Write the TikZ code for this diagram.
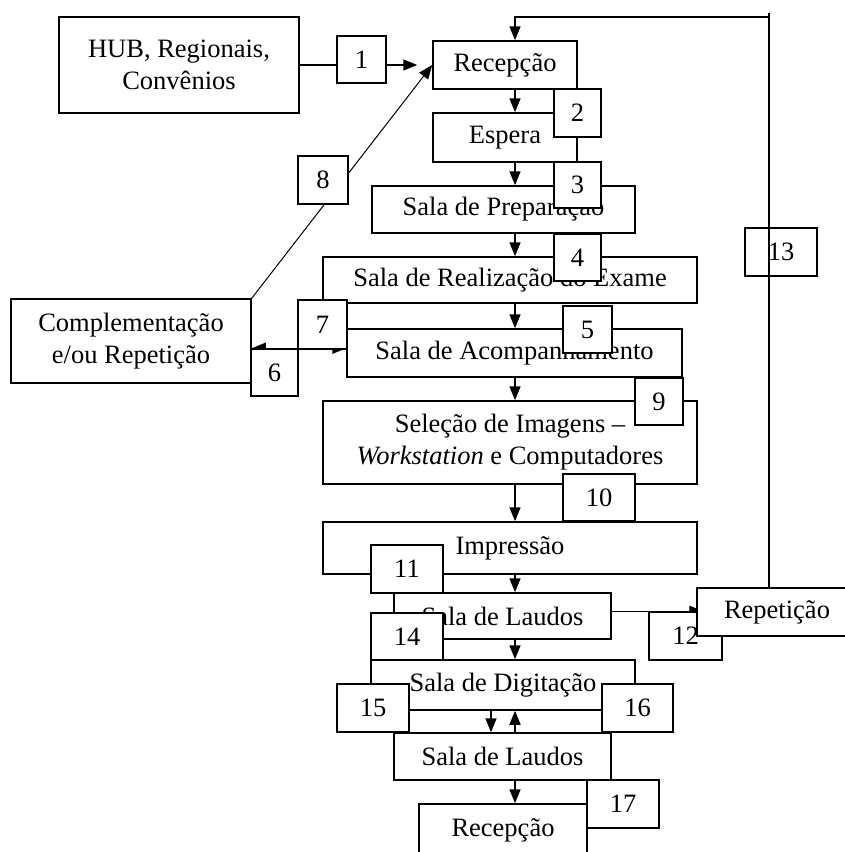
\documentclass[tikz,border=0pt]{standalone}
\usepackage{fontspec}
\setmainfont{Liberation Serif}
\usetikzlibrary{arrows.meta,backgrounds}

\begin{document}
\begin{tikzpicture}[
    x=1pt, y=-1pt,
    block/.style={rectangle, draw, fill=white, line width=1.5pt,
                  inner sep=0pt, align=center,
                  font=\fontsize{26.5}{32}\selectfont},
    wh/.style 2 args={minimum width=#1pt, minimum height=#2pt},
    arrow/.style={line width=1.5pt, -{Triangle[length=14pt,width=11pt]}},
    thinarrow/.style={line width=1pt, -{Triangle[length=14pt,width=11pt]}},
    line/.style={line width=1.5pt}
  ]
    \useasboundingbox (0,0) rectangle (845,852);

    % Eixos das setas
    \coordinate (eixo) at (515,0);
    \coordinate (eixoB) at (491,0);
    \coordinate (topo) at (769,17);

    % Blocos
    \node[block, wh={240}{96}] (hub) at (179,65) {HUB, Regionais,\\Convênios};
    \node[block, wh={144}{48}] (recep) at (505,65) {Recepção};
    \node[block, wh={144}{49}] (espera) at (505,137.5) {Espera};
    \node[block, wh={263}{47}] (prep) at (503.5,209.5) {Sala de Preparação};
    \node[block, wh={374}{46}] (realiz) at (510,280) {Sala de Realização do Exame};
    \node[block, wh={335}{48}] (acomp) at (514.5,353) {Sala de Acompanhamento};
    \node[block, wh={374}{83}] (selec) at (510,442.5) {Seleção de Imagens --\\\textit{Workstation} e Computadores};
    \node[block, wh={374}{52}] (impr) at (510,548) {Impressão};
    \node[block, wh={217}{46}] (laudosA) at (502.5,616) {Sala de Laudos};
    \node[block, wh={264}{50}] (digit) at (503,685) {Sala de Digitação};
    \node[block, wh={217}{47}] (laudosB) at (502.5,756.5) {Sala de Laudos};
    \node[block, wh={168}{52}] (recepB) at (503,830) {Recepção};
    \node[block, wh={240}{84}] (comp) at (131,341) {Complementação\\e/ou Repetição};

    % Numeros
    \node[block, wh={49}{47}] (one) at (361.5,59.5) {1};
    \node[block, wh={47}{48}] (two) at (577.5,113) {2};
    \node[block, wh={47}{46}] (three) at (577.5,185) {3};
    \node[block, wh={47}{47}] (four) at (577.5,257.5) {4};
    \node[block, wh={49}{47}] (five) at (587.5,329.5) {5};
    \node[block, wh={47}{47}] (six) at (274.5,372.5) {6};
    \node[block, wh={49}{49}] (seven) at (322.5,324.5) {7};
    \node[block, wh={50}{48}] (eight) at (323,180) {8};
    \node[block, wh={48}{47}] (nine) at (659,401.5) {9};
    \node[block, wh={72}{47}] (ten) at (599,497.5) {10};
    \node[block, wh={72}{48}] (eleven) at (407,569) {11};
    \node[block, wh={73}{48}] (twelve) at (685.5,636) {12};
    \node[block, wh={72}{48}] (thirteen) at (781,252) {13};
    \node[block, wh={72}{47}] (fourteen) at (407,636.5) {14};
    \node[block, wh={72}{48}] (fifteen) at (373,708) {15};
    \node[block, wh={71}{48}] (sixteen) at (637.5,708) {16};
    \node[block, wh={72}{48}] (seventeen) at (623,804) {17};
    \node[block, wh={160}{48}] (repet) at (777,612) {Repetição};

    % Conexoes
    \draw[arrow] (recep.south -| eixo) -- (espera.north -| eixo);
    \draw[arrow] (espera.south -| eixo) -- (prep.north -| eixo);
    \draw[arrow] (prep.south -| eixo) -- (realiz.north -| eixo);
    \draw[arrow] (realiz.south -| eixo) -- (acomp.north -| eixo);
    \draw[arrow] (acomp.south -| eixo) -- (selec.north -| eixo);
    \draw[arrow] (selec.south -| eixo) -- (impr.north -| eixo);
    \draw[arrow] (impr.south -| eixo) -- (laudosA.north -| eixo);
    \draw[arrow] (laudosA.south -| eixo) -- (digit.north -| eixo);
    \draw[arrow] (digit.south -| eixoB) -- (laudosB.north -| eixoB);
    \draw[arrow] (laudosB.north -| eixo) -- (digit.south -| eixo);
    \draw[arrow] (laudosB.south -| eixo) -- (recepB.north -| eixo);
    \draw[line] (repet.north -| topo) -- ([yshift=4pt]topo);
    \draw[arrow] (topo) -| (recep.north -| eixo);

    \begin{scope}[on background layer]
      \draw[arrow, shorten >=15pt] (hub.east) -- (recep.west |- hub.east);
      \draw[thinarrow] (comp.north east) -- (recep.west);
      \draw[arrow, {Triangle[length=14pt,width=11pt]}-{Triangle[length=14pt,width=11pt]}]
        (comp.east |- six.north) -- (acomp.west |- six.north);
      \draw[arrow, shorten >=-7pt] (laudosA.east |- twelve.north) -- (repet.west |- twelve.north);
    \end{scope}
\end{tikzpicture}
\end{document}
